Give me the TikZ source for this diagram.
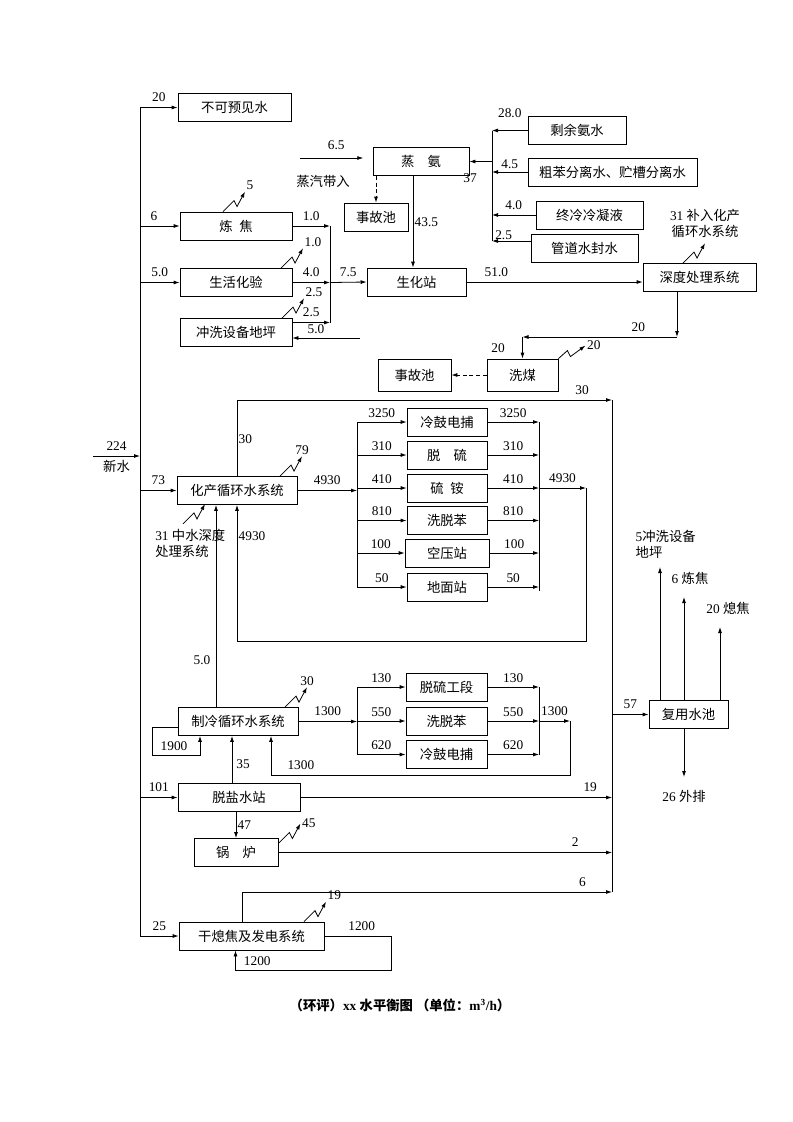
\documentclass[tikz,border=0pt]{standalone}
\usepackage{fontspec}
\setmainfont{Liberation Serif}
\newfontfamily\cjk{Noto Sans CJK SC}
\usetikzlibrary{arrows.meta}
\usetikzlibrary{calc}
\usetikzlibrary{positioning}
% petite perte en zigzag : depart, nom, options du texte, texte
\newcommand{\evap}[4]{\draw[fleche] #1 -- ++(11,-11) -- ++(3,6) -- ++(8,-15) node[lab,#3] (#2) {#4};}

\begin{document}
\begin{tikzpicture}[x=0.75pt, y=-0.75pt, line width=0.6pt,
	every node/.style={font=\fontsize{10}{12}\selectfont},
	box/.style={draw, rectangle, minimum height=21pt, inner sep=1pt, font=\cjk\fontsize{10}{12}\selectfont},
	lab/.style={inner sep=1pt},
	fleche/.style={-{Latex[length=4.5pt,width=3pt]}},
	tirets/.style={dash pattern=on 3pt off 2pt}]
			\useasboundingbox (0,0) rectangle (793,1122);
			% Collecteurs et points libres
			\coordinate (tronc) at (140,0);
			\coordinate (neuf) at (93,456);
			\coordinate (colg) at (330,0);
			\coordinate (cold) at (492,0);
			\coordinate (dg) at (357,0);
			\coordinate (dd) at (539,0);
			\coordinate (sort1) at (586,0);
			\coordinate (sort2) at (570,0);
			\coordinate (droite) at (612,0);
			\coordinate (vap) at (300,158);
			\coordinate (cxin) at (360,338);
			\coordinate (k1) at (677,337);
			\coordinate (k2) at (522.5,337);
			\coordinate (haut) at (612,400);
			\coordinate (basd) at (612,892);
			\coordinate (bas1) at (586,641);
			\coordinate (rb) at (570,775);
			\coordinate (b19) at (152,755);
			\coordinate (g2) at (391,970);
			\coordinate (h5) at (660,567);
			\coordinate (h6) at (684,597);
			\coordinate (h20) at (720,627);
			\coordinate (h26) at (684,777);
			%
			% Bo\^ites du haut
			\node[box, minimum width=84.75pt] (kb) at (234.5,107.5) {不可预见水};
			\node[box, minimum width=72pt] (zq) at (421,161.5) {蒸　氨};
			\node[box, minimum width=48pt] (sg1) at (376,217) {事故池};
			\node[box, minimum width=73.5pt] (sy) at (577,130.5) {剩余氨水};
			\node[box, minimum width=126.75pt] (cb) at (612.5,172) {粗苯分离水、贮槽分离水};
			\node[box, minimum width=80.25pt] (zl) at (589.5,215) {终冷冷凝液};
			\node[box, minimum width=80.25pt] (gd) at (584.5,248) {管道水封水};
			\node[box, minimum width=84pt] (lj) at (236,226) {炼\hspace{0.5em}焦};
			\node[box, minimum width=84pt] (sh) at (236,282.5) {生活化验};
			\node[box, minimum width=84pt] (cx) at (236,332.5) {冲洗设备地坪};
			\node[box, minimum width=74.25pt] (shz) at (416.5,282) {生化站};
			\node[box, minimum width=84.75pt] (sd) at (699.5,277.5) {深度处理系统};
			\node[box, minimum width=53.25pt, minimum height=24pt] (xm) at (522.5,375) {洗煤};
			\node[box, minimum width=54.75pt, minimum height=24pt] (sg2) at (414.5,375) {事故池};
			%
			% Circuit du chimique
			\node[box, minimum width=90pt] (hc) at (237,490.5) {化产循环水系统};
			\node[box, minimum width=60pt] (r1) at (447,422) {冷鼓电捕};
			\node[box, minimum width=60pt] (r2) at (447,455) {脱　硫};
			\node[box, minimum width=60pt] (r3) at (447,488) {硫\hspace{0.5em}铵};
			\node[box, minimum width=60pt] (r4) at (447,520.5) {洗脱苯};
			\node[box, minimum width=63pt] (r5) at (447,553) {空压站};
			\node[box, minimum width=60pt] (r6) at (447,587) {地面站};
			%
			% Circuit de r\'efrig\'eration et bas
			\node[box, minimum width=90pt] (zl2) at (238,721.5) {制冷循环水系统};
			\node[box, minimum width=60.75pt] (s1) at (446.5,687) {脱硫工段};
			\node[box, minimum width=60.75pt] (s2) at (446.5,721) {洗脱苯};
			\node[box, minimum width=60.75pt] (s3) at (446.5,754.5) {冷鼓电捕};
			\node[box, minimum width=91.5pt] (ty) at (239,797.5) {脱盐水站};
			\node[box, minimum width=63pt] (gl) at (236,852.5) {锅　炉};
			\node[box, minimum width=108.75pt] (gx) at (251.5,936) {干熄焦及发电系统};
			\node[box, minimum width=59.25pt] (fy) at (688.5,714.5) {复用水池};
			%
			% Tronc d'eau neuve
			\draw (kb.west -| tronc) -- (gx.west -| tronc);
			\draw[fleche] (neuf) -- node[lab, above=3pt] (n224) {224} node[lab, below=2pt, font=\cjk\fontsize{10}{12}\selectfont] (nxs) {新水} (neuf -| tronc);
			\draw[fleche] (kb.west -| tronc) -- node[lab, above=3pt] (n20) {20} (kb.west);
			\draw[fleche] (lj.west -| tronc) -- node[lab, above=3pt, pos=0.35] (n6) {6} (lj.west);
			\draw[fleche] (sh.west -| tronc) -- node[lab, above=3pt] (n5a) {5.0} (sh.west);
			\draw[fleche] (hc.west -| tronc) -- node[lab, above=3pt] (n73) {73} (hc.west);
			\draw[fleche] (ty.west -| tronc) -- node[lab, above=3pt] (n101) {101} (ty.west);
			\draw[fleche] (gx.west -| tronc) -- node[lab, above=3pt] (n25) {25} (gx.west);
			%
			% Vapeur et ammoniac
			\draw[fleche, shorten >=7pt] (vap) -- node[lab, above=5pt] (n65) {6.5} (vap -| zq.west);
			\node[lab, font=\cjk\fontsize{10}{12}\selectfont] (nvap) at (323,181) {蒸汽带入};
			\draw[fleche, tirets] (sg1.north |- zq.south) -- (sg1.north);
			\coordinate (c435) at ($(zq.south)+(-8,0)$);
			\draw[fleche] (c435) -- node[lab, right] (n435) {43.5} (c435 |- shz.north);
			\node[lab] (n37) at (470,178) {37};
			\coordinate (cgd) at ($(gd.west)+(0,-7)$);
			\draw (sy.west -| cold) -- (cgd -| cold);
			\draw[fleche] (sy.west) -- node[lab, above=8pt] (n28) {28.0} (sy.west -| cold);
			\draw[fleche] (cb.west) -- node[lab, above=1pt] (n45) {4.5} (cb.west -| cold);
			\draw[fleche] (zl.west) -- node[lab, above=3pt] (n40) {4.0} (zl.west -| cold);
			\draw[fleche] (cgd) -- node[lab, above, pos=0.7] (n25b) {2.5} (cgd -| cold);
			\draw[fleche] (zq.east -| cold) -- (zq.east);
			%
			% Cokerie, laboratoire, lavage vers station biochimique
			\coordinate (ccx) at ($(cx.east)+(0,-10)$);
			\draw (lj.east -| colg) -- (ccx -| colg);
			\draw[fleche] (lj.east) -- node[lab, above=3pt] (n10) {1.0} (lj.east -| colg);
			\draw[fleche] (sh.east) -- node[lab, above=3pt] (n40b) {4.0} (sh.east -| colg);
			\draw[fleche] (ccx) -- node[lab, above=3pt] (n25c) {2.5} (ccx -| colg);
			\draw[fleche] (sh.east -| colg) -- node[lab, above=3pt] (n75) {7.5} (shz.west);
			\draw[fleche] (cxin) -- node[lab, above=2pt, pos=0.65] (n50b) {5.0} (cxin -| cx.east);
			\draw[fleche] (shz.east) -- node[lab, above=3pt, pos=0.17] (n51) {51.0} (shz.east -| sd.west);
			\coordinate (csd) at ($(sd.south)+(-22.5,0)$);
			\draw[fleche] (csd) -- (k1);
			\draw[fleche] (k1) -- node[lab, above=3pt, pos=0.25] (n20b) {20} (k2);
			\draw[fleche] (k2) -- node[lab, left=12pt] (n20c) {20} (xm.north);
			\draw[fleche] (xm.north east) -- ++(9,-8) -- ++(3,6) -- ++(15,-11) node[lab, anchor=west] (n20d) {20};
			\draw[fleche, tirets] (xm.west) -- (sg2.east);
			%
			% Pertes en zigzag
			\evap{($(lj.north)+(-13,0)$)}{z5}{anchor=south west}{5}
			\evap{($(sh.north)+(45,0)$)}{z10}{anchor=south west}{1.0}
			\evap{($(cx.north)+(46,0)$)}{z25}{anchor=south west}{2.5}
			\evap{($(sd.north)+(-16.5,0)$)}{z31a}{anchor=south, align=center, yshift=3pt}{31 {\cjk 补入化产}\\{\cjk 循环水系统}}
			\evap{($(hc.north)+(43,0)$)}{z79}{anchor=south}{79}
			\evap{($(hc.south)+(-54,19)$)}{z31b}{anchor=north east, align=left, xshift=16.5pt, yshift=-18pt}{31 {\cjk 中水深度}\\{\cjk 处理系统}}
			\evap{($(zl2.north)+(47,0)$)}{z30}{anchor=south}{30}
			\evap{($(gl.east)+(0,-9)$)}{z45}{anchor=west}{45}
			\evap{($(gx.north)+(52.5,0)$)}{z19}{anchor=south west}{19}
			%
			% Circuit du chimique : distribution et retour
			\draw[fleche] (hc.north) |- node[lab, right, pos=0.24] (n30a) {30} node[lab, above=3pt, pos=0.96] (n30b) {30} (haut);
			\draw (haut) -- (basd);
			\draw[fleche] (hc.east) -- node[lab, above=3pt] (n4930a) {4930} (hc.east -| dg);
			\draw (r1.west -| dg) -- (r6.west -| dg);
			\draw (r1.east -| dd) -- ([yshift=-3pt]r6.east -| dd);
			\foreach \b/\q in {r1/3250, r2/310, r3/410, r4/810, r5/100, r6/50} {
				\draw[fleche] (\b.west -| dg) -- node[lab, above=2pt] (g\b) {\q} (\b.west);
				\draw[fleche] (\b.east) -- node[lab, above=2pt] (d\b) {\q} (\b.east -| dd);
			}
			\draw[fleche] (r3.east -| dd) -- node[lab, above=3pt] (n4930b) {4930} (r3.east -| sort1);
			\draw[fleche] (r3.east -| sort1) -- (bas1) -| node[lab, right, pos=0.886] (n4930c) {4930} (hc.south);
			%
			% Circuit de r\'efrig\'eration
			\coordinate (c50) at ($(zl2.north)+(-22,0)$);
			\draw[fleche] (c50) -- node[lab, left=3pt, pos=0.23] (n50c) {5.0} (c50 |- hc.south);
			\draw[fleche] (zl2.east) -- node[lab, above=3pt] (n1300a) {1300} (zl2.east -| dg);
			\draw (s1.west -| dg) -- (s3.west -| dg);
			\draw (s1.east -| dd) -- (s3.east -| dd);
			\foreach \b/\q in {s1/130, s2/550, s3/620} {
				\draw[fleche] (\b.west -| dg) -- node[lab, above=2pt] (g\b) {\q} (\b.west);
				\draw[fleche] (\b.east) -- node[lab, above=2pt] (d\b) {\q} (\b.east -| dd);
			}
			\draw[fleche] (s2.east -| dd) -- node[lab, above=3pt] (n1300b) {1300} (s2.east -| sort2);
			\coordinate (c1300) at ($(zl2.south)+(33,0)$);
			\draw[fleche] (s2.east -| sort2) -- (rb) -| node[lab, above=3pt, pos=0.45] (n1300c) {1300} (c1300);
			\coordinate (c1900a) at ($(zl2.west)+(0,5.5)$);
			\coordinate (c1900b) at ($(zl2.south)+(-38,0)$);
			\draw[fleche] (c1900a) -| (b19) -| node[lab, above=2pt, pos=0.23] (n1900) {1900} (c1900b);
			\coordinate (c35) at ($(ty.north)+(-7,0)$);
			\draw[fleche] (c35) -- node[lab, right=2pt, pos=0.4] (n35) {35} (c35 |- zl2.south);
			%
			% Eau d\'emin\'eralis\'ee, chaudi\`ere, extinction \`a sec
			\draw[fleche] (ty.east) -- node[lab, above=3pt, pos=0.93] (n19) {19} (ty.east -| droite);
			\draw[fleche] (ty.south -| gl.north) -- node[lab, right] (n47) {47} (gl.north);
			\draw[fleche] (gl.east) -- node[lab, above=3pt, pos=0.89] (n2) {2} (gl.east -| droite);
			\coordinate (c6) at ($(gx.north)+(-9,0)$);
			\draw[fleche] (c6) |- node[lab, above=3pt, pos=0.96] (n6b) {6} (basd);
			\coordinate (c1200) at ($(gx.south)+(-16,0)$);
			\draw[fleche] (gx.east) -| node[lab, above=3pt, pos=0.28] (n1200a) {1200} (g2) -| node[lab, above=2pt, pos=0.43] (n1200b) {1200} (c1200);
			%
			% Bassin de r\'eutilisation
			\draw[fleche] (fy.west -| droite) -- node[lab, above=3pt] (n57) {57} (fy.west);
			\draw[fleche] (h5 |- fy.north) -- (h5);
			\draw[fleche] (h6 |- fy.north) -- (h6);
			\draw[fleche] (h20 |- fy.north) -- (h20);
			\draw[fleche] (h26 |- fy.south) -- (h26);
			\node[lab, align=left, anchor=west] (nf5) at (634,544) {5{\cjk 冲洗设备}\\{\cjk 地坪}};
			\node[lab] (nf6) at (690,578) {6 {\cjk 炼焦}};
			\node[lab] (nf20) at (728,608) {20 {\cjk 熄焦}};
			\node[lab] (nf26) at (684,796) {26 {\cjk 外排}};
			%
			% Titre
			\node[lab, font=\bfseries\fontsize{10}{12}\selectfont] (titre) at (400,1005) {{\cjk （环评）}xx {\cjk 水平衡图 （单位：}m\textsuperscript{3}/h{\cjk ）}};
\end{tikzpicture}
\end{document}
